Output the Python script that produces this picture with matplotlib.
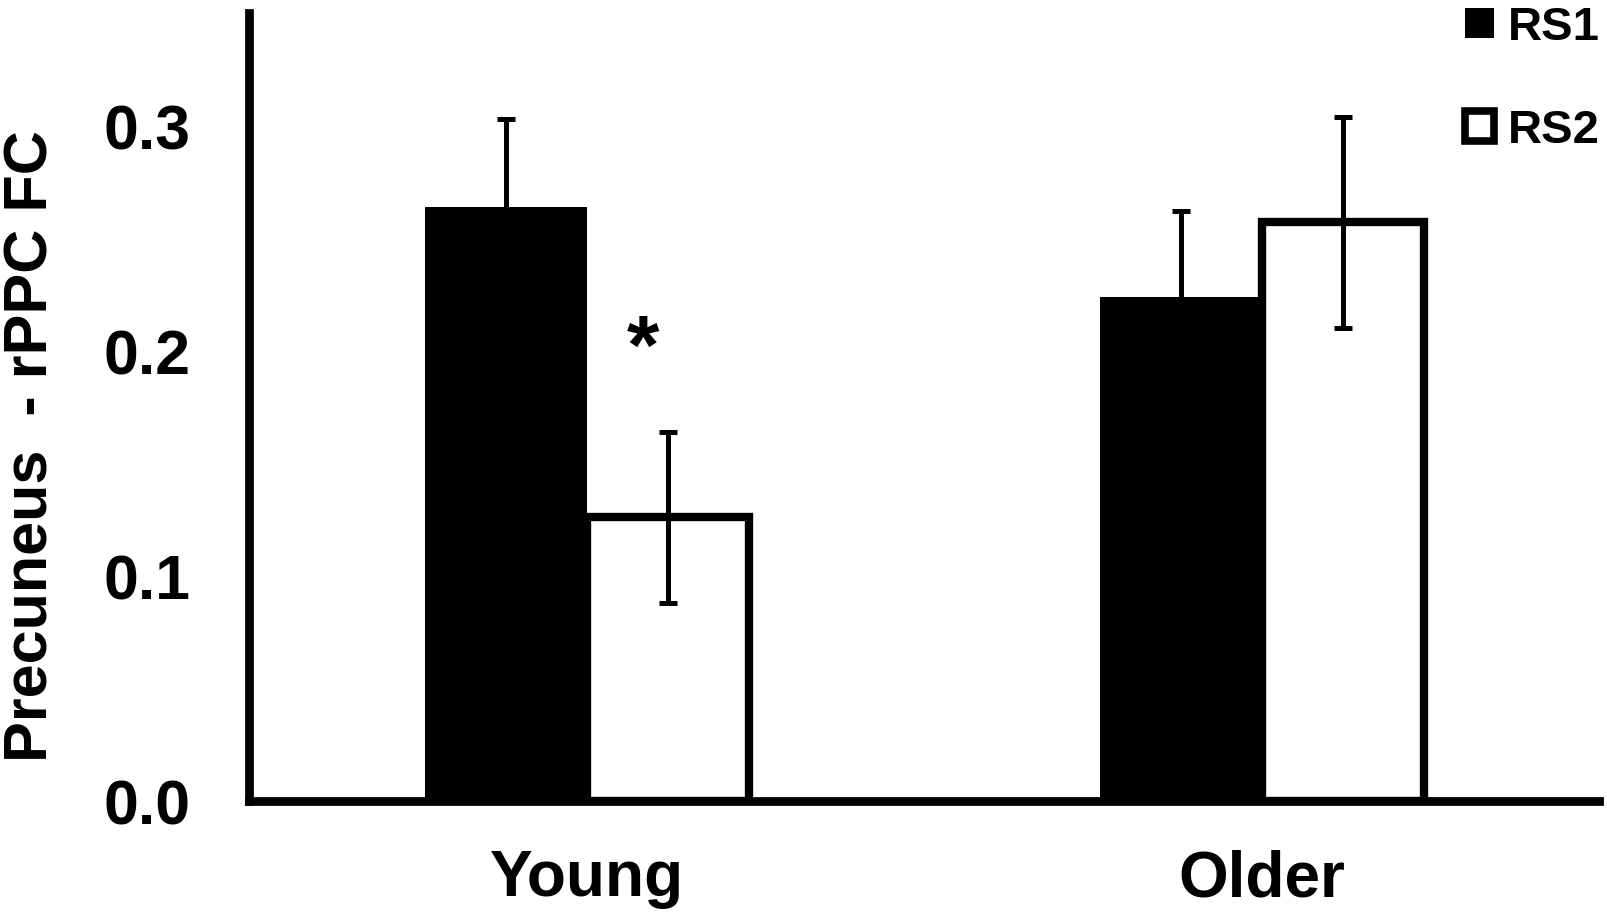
"""
Precuneus - rPPC functional connectivity, young vs older, two resting-state runs.
Saves out.png
"""

import numpy as np
import matplotlib.pyplot as plt
from matplotlib.patches import Patch

# Values
groups = ["Young", "Older"]
rs1_mean = [0.264, 0.224]
rs1_err = [0.039, 0.038]
rs2_mean = [0.126, 0.257]
rs2_err = [0.038, 0.047]
series_labels = ["RS1", "RS2"]
y_ticks = [0.0, 0.1, 0.2, 0.3]
star_label = "*"


def main() -> None:
    plt.rcParams["font.family"] = ["Liberation Sans", "DejaVu Sans"]
    plt.rcParams["font.weight"] = "bold"

    fig = plt.figure(figsize=(16.08, 9.2), dpi=100)
    ax = fig.add_axes([0.1549, 0.1283, 0.8396, 0.8565])

    x = np.arange(len(groups))
    width = 0.24

    ax.bar(x - width / 2, rs1_mean, width, color="black", edgecolor="black", linewidth=0, zorder=2)
    ax.bar(x + width / 2, rs2_mean, width, color="white", edgecolor="black", linewidth=6, zorder=2)

    err_kw = dict(fmt="none", ecolor="black", elinewidth=3.6, capsize=6.5, capthick=3.6, zorder=3)
    ax.errorbar(x - width / 2, rs1_mean, yerr=rs1_err, **err_kw)
    ax.errorbar(x + width / 2, rs2_mean, yerr=rs2_err, **err_kw)

    # significance marker over the young RS2 bar
    ax.text(x[0] + 0.084, 0.190, star_label, ha="center", va="baseline", fontsize=60, fontweight="bold")

    ax.set_xlim(-0.5, 1.5)
    ax.set_ylim(0, 0.35)
    ax.set_xticks(x)
    ax.set_xticklabels(groups, fontsize=46, fontweight="bold")
    ax.set_yticks(y_ticks)
    ax.set_yticklabels([f"{t:.1f}" for t in y_ticks], fontsize=45, fontweight="bold")
    ax.tick_params(axis="both", length=0)
    ax.tick_params(axis="y", pad=42)
    ax.tick_params(axis="x", pad=34)

    for side in ["top", "right"]:
        ax.spines[side].set_visible(False)
    for side in ["left", "bottom"]:
        ax.spines[side].set_linewidth(6.3)

    fig.text(32 / 1608, 1 - 446 / 920, "Precuneus  - rPPC FC", rotation=90,
             ha="center", va="center", fontsize=44, fontweight="bold")

    handles = [Patch(facecolor="black", edgecolor="black", linewidth=0),
               Patch(facecolor="white", edgecolor="black", linewidth=5.5)]
    fig.legend(handles, series_labels, loc="upper right", bbox_to_anchor=(0.995, 0.993),
               frameon=False, handlelength=0.6, handleheight=0.6,
               handletextpad=0.3, labelspacing=1.25, borderpad=0.0, borderaxespad=0.0,
               prop={"weight": "bold", "size": 34})

    fig.savefig("out.png", dpi=100)


if __name__ == "__main__":
    main()
